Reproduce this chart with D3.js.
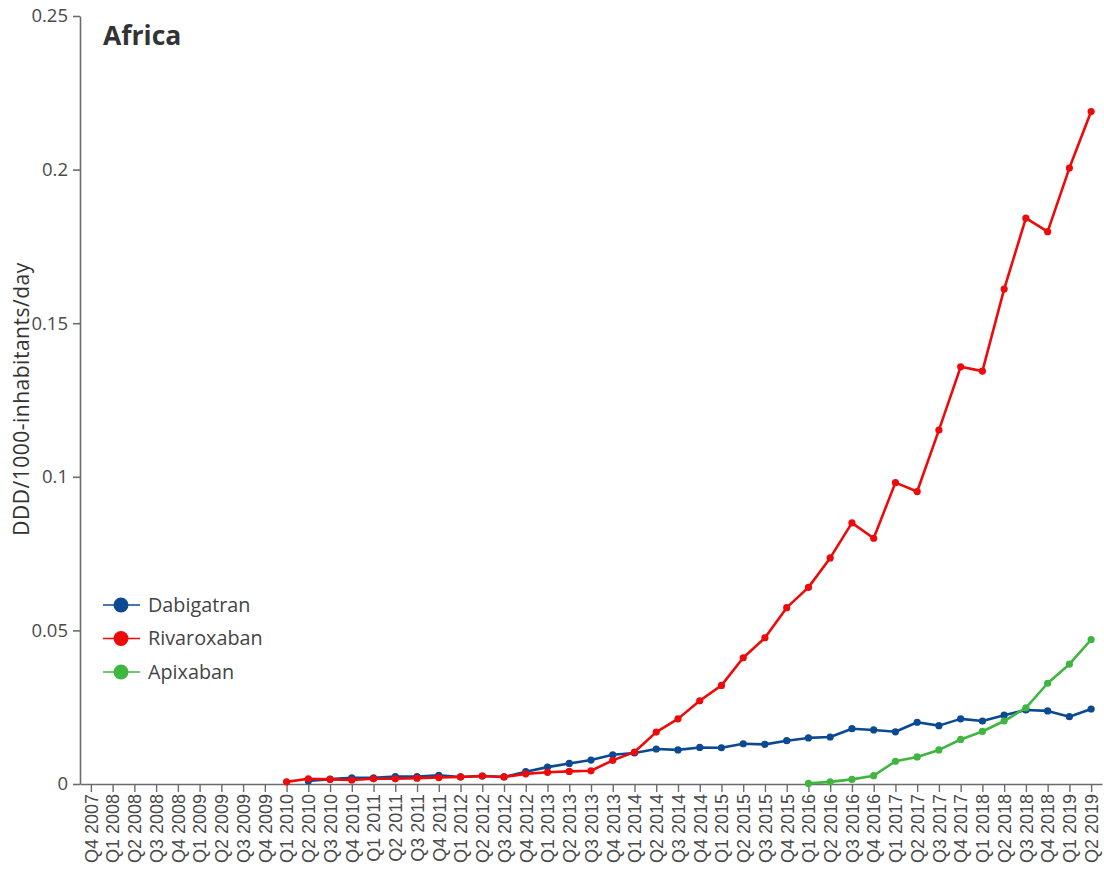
<!DOCTYPE html>
<html><head><meta charset="utf-8">
<script src="https://cdn.jsdelivr.net/npm/d3@7"></script>
<style>
body{margin:0;background:#fff;}
svg{display:block;}
</style></head>
<body>
<svg id="chart" width="1104" height="874"></svg>
<script>
const categories = ["Q4 2007","Q1 2008","Q2 2008","Q3 2008","Q4 2008","Q1 2009","Q2 2009","Q3 2009","Q4 2009",
"Q1 2010","Q2 2010","Q3 2010","Q4 2010","Q1 2011","Q2 2011","Q3 2011","Q4 2011","Q1 2012","Q2 2012","Q3 2012","Q4 2012",
"Q1 2013","Q2 2013","Q3 2013","Q4 2013","Q1 2014","Q2 2014","Q3 2014","Q4 2014","Q1 2015","Q2 2015","Q3 2015","Q4 2015",
"Q1 2016","Q2 2016","Q3 2016","Q4 2016","Q1 2017","Q2 2017","Q3 2017","Q4 2017","Q1 2018","Q2 2018","Q3 2018","Q4 2018","Q1 2019","Q2 2019"];

const dabigatran = [null,null,null,null,null,null,null,null,null,
null,0.0010,0.0016,0.0020,0.0020,0.0024,0.0024,0.0028,0.0023,0.0026,0.0023,0.0040,
0.0055,0.0067,0.0078,0.0095,0.0101,0.0114,0.0111,0.0119,0.0118,0.0131,0.0129,0.0141,
0.0150,0.0153,0.0180,0.0176,0.0170,0.0201,0.0190,0.0212,0.0205,0.0224,0.0241,0.0238,0.0219,0.0244];

const rivaroxaban = [null,null,null,null,null,null,null,null,null,
0.0007,0.0017,0.0015,0.0013,0.0017,0.0017,0.0019,0.0021,0.0023,0.0026,0.0023,0.0033,
0.0038,0.0041,0.0043,0.0077,0.0104,0.0169,0.0212,0.0271,0.0321,0.0411,0.0476,0.0574,
0.0640,0.0736,0.0850,0.0800,0.0981,0.0952,0.1152,0.1358,0.1344,0.1611,0.1842,0.1798,0.2005,0.2189];

const apixaban = [null,null,null,null,null,null,null,null,null,
null,null,null,null,null,null,null,null,null,null,null,null,
null,null,null,null,null,null,null,null,null,null,null,null,
0.0002,0.0007,0.0015,0.0027,0.0074,0.0088,0.0111,0.0145,0.0171,0.0205,0.0248,0.0328,0.0390,0.0470];

const seriesNames = ["Dabigatran","Rivaroxaban","Apixaban"];
const seriesColors = ["#0b4a92","#ee0a0a","#40b640"];
const yTicks = [0,0.05,0.1,0.15,0.2,0.25];
const title = "Africa";
const yLabel = "DDD/1000-inhabitants/day";

(function(){
const series = [dabigatran, rivaroxaban, apixaban].map((vals,i)=>({name:seriesNames[i],color:seriesColors[i],values:vals}));

const svg = d3.select("#chart");
const mLeft = 80, mRight = 1102, mTop = 16, mBottom = 784;

const x = d3.scalePoint().domain(categories).range([mLeft,mRight]).padding(0.5);
const y = d3.scaleLinear().domain([0,0.25]).range([mBottom,mTop]);

const axisColor = "#6b6b6b";
const textColor = "#4a4a4a";

// Y axis
const yAxis = svg.append("g").attr("transform",`translate(${mLeft},0)`)
  .call(d3.axisLeft(y).tickValues(yTicks).tickFormat(d=>d===0?"0":String(d)).tickSize(7).tickSizeOuter(0));
yAxis.select(".domain").attr("stroke",axisColor).attr("stroke-width",1.6);
yAxis.selectAll(".tick line").attr("stroke",axisColor).attr("stroke-width",1.6);
yAxis.selectAll(".tick text").attr("fill",textColor).attr("font-family","'Open Sans', sans-serif")
  .attr("font-size",18.5).attr("x",-12);

// X axis
const xAxis = svg.append("g").attr("transform",`translate(0,${mBottom})`)
  .call(d3.axisBottom(x).tickSize(8).tickSizeOuter(0));
xAxis.select(".domain").attr("stroke",axisColor).attr("stroke-width",1.6);
xAxis.selectAll(".tick line").attr("stroke",axisColor).attr("stroke-width",1.4);
xAxis.selectAll(".tick text").attr("fill",textColor).attr("font-family","'Liberation Sans', Arial, sans-serif")
  .attr("font-size",18).attr("transform","rotate(-90)").attr("text-anchor","end")
  .attr("x",-10).attr("y",0).attr("dy","0.35em");

// Title
svg.append("text").attr("x",103).attr("y",45).text(title)
  .attr("font-family","'Open Sans', sans-serif").attr("font-weight","bold").attr("font-size",26.5).attr("fill","#333");

// Y label
svg.append("text").attr("transform",`translate(29,${(mTop+mBottom)/2 - 1}) rotate(-90)`)
  .attr("text-anchor","middle").text(yLabel)
  .attr("font-family","'Open Sans', sans-serif").attr("font-size",21).attr("letter-spacing",0.5).attr("fill","#333");

// Lines
const line = d3.line().defined(d=>d.v!==null).x(d=>x(d.c)).y(d=>y(d.v));
series.forEach(s=>{
  const pts = s.values.map((v,i)=>({c:categories[i],v:v}));
  const g = svg.append("g");
  g.append("path").datum(pts).attr("d",line).attr("fill","none").attr("stroke",s.color)
    .attr("stroke-width",2.6).attr("stroke-linejoin","round");
  g.selectAll("circle").data(pts.filter(d=>d.v!==null)).enter().append("circle")
    .attr("cx",d=>x(d.c)).attr("cy",d=>y(d.v)).attr("r",3.6).attr("fill",s.color);
});

// Legend
const legend = svg.append("g");
series.forEach((s,i)=>{
  const ly = 605 + i*33.5;
  legend.append("line").attr("x1",103).attr("x2",140).attr("y1",ly).attr("y2",ly).attr("stroke",s.color).attr("stroke-width",1.6);
  legend.append("circle").attr("cx",121).attr("cy",ly).attr("r",7.5).attr("fill",s.color);
  legend.append("text").attr("x",148).attr("y",ly).attr("dy","0.35em").text(s.name)
    .attr("font-family","'Open Sans', sans-serif").attr("font-size",19.8).attr("fill","#444");
});
})();
</script>
</body></html>
